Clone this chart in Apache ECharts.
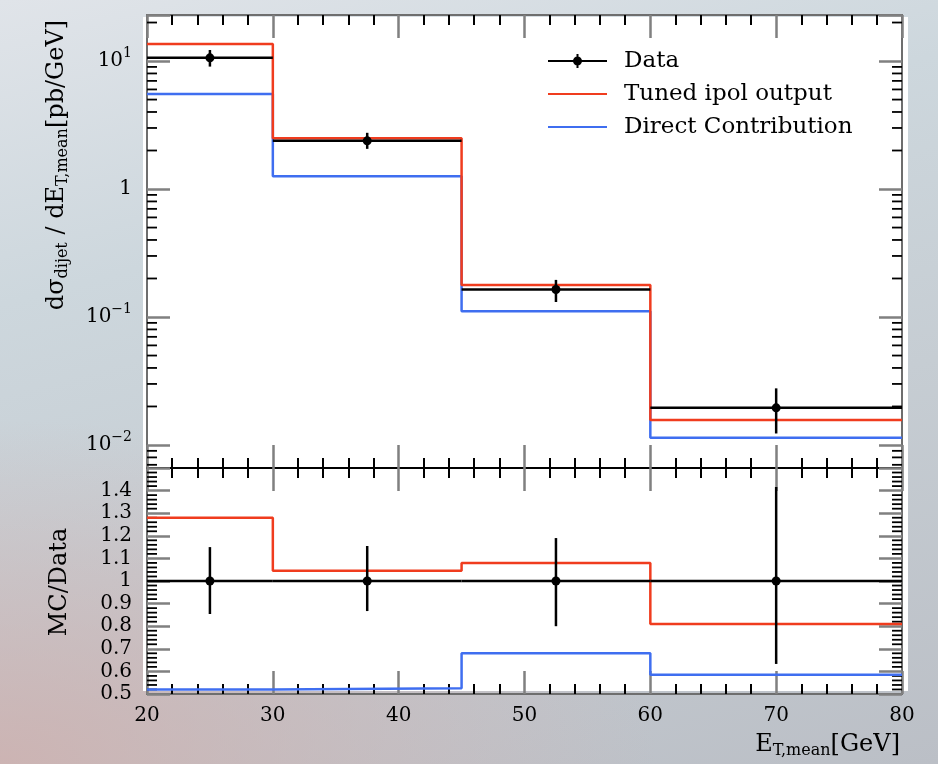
<!DOCTYPE html>
<html>
<head>
<meta charset="utf-8">
<script src="https://cdn.jsdelivr.net/npm/echarts@6/dist/echarts.min.js"></script>
<style>
  html, body { margin: 0; padding: 0; }
  #main {
    width: 938px; height: 764px;
    background:
      radial-gradient(ellipse 70% 45% at 0% 100%, rgba(206,176,174,0.85), rgba(206,176,174,0) 100%),
      linear-gradient(165deg, #e0e4e9 0%, #cdd7dd 30%, #c6cdd3 60%, #bbbfc6 100%);
  }
</style>
</head>
<body>
<div id="main"></div>
<script>
var chartDom = document.getElementById('main');
var myChart = echarts.init(chartDom);

const FONT = 'DejaVu Serif';
const frameColor = '#6e6e6e';
const majorTickColor = '#808080';
const redColor = '#f03c1e';
const blueColor = '#3f6ef0';

// bins in E_T,mean [GeV]
const binEdges = [20, 30, 45, 60, 80];
const binLo = [20, 30, 45, 60];
const binHi = [30, 45, 60, 80];
const binCenter = [25, 37.5, 52.5, 70];

// upper panel: dsigma/dE_T,mean [pb/GeV]
const dataValues = [10.6, 2.38, 0.164, 0.0195];
const dataErrLow = [9.05, 2.06, 0.131, 0.0123];
const dataErrHigh = [12.2, 2.75, 0.195, 0.0277];
const tunedValues = [13.6, 2.49, 0.178, 0.0157];
const directValues = [5.52, 1.26, 0.111, 0.0114];

// lower panel: MC/Data
const ratioData = [1, 1, 1, 1];
const ratioErrLow = [0.854, 0.867, 0.80, 0.633];
const ratioErrHigh = [1.15, 1.155, 1.19, 1.416];
const ratioTuned = [1.28, 1.045, 1.08, 0.81];
const ratioDirect = [0.52, 0.525, 0.68, 0.585];

// ticks
const logMajorTicks = [0.01, 0.1, 1, 10];
const logMajorLabels = ['10{sup|−2}', '10{sup|−1}', '1', '10{sup|1}'];
const logMinorTicks = [0.007, 0.008, 0.009,
  0.02, 0.03, 0.04, 0.05, 0.06, 0.07, 0.08, 0.09,
  0.2, 0.3, 0.4, 0.5, 0.6, 0.7, 0.8, 0.9,
  2, 3, 4, 5, 6, 7, 8, 9, 20];
const ratioLabels = ['0.5', '0.6', '0.7', '0.8', '0.9', '1', '1.1', '1.2', '1.3', '1.4'];
const ratioMinorTicks = [0.52, 0.54, 0.56, 0.58, 0.62, 0.64, 0.66, 0.68,
  0.72, 0.74, 0.76, 0.78, 0.82, 0.84, 0.86, 0.88, 0.92, 0.94, 0.96, 0.98,
  1.02, 1.04, 1.06, 1.08, 1.12, 1.14, 1.16, 1.18, 1.22, 1.24, 1.26, 1.28,
  1.32, 1.34, 1.36, 1.38, 1.42, 1.44, 1.46, 1.48];

function stepData(values) {
  var out = [];
  for (var i = 0; i < values.length; i++) {
    out.push([binEdges[i], values[i]]);
  }
  out.push([binEdges[binEdges.length - 1], values[values.length - 1]]);
  return out;
}

function pointData(vals, lows, highs) {
  var out = [];
  for (var i = 0; i < vals.length; i++) {
    out.push([binLo[i], binHi[i], binCenter[i], vals[i], lows[i], highs[i]]);
  }
  return out;
}

function edgeData(ticks, x) {
  return ticks.map(function (v) { return [x, v]; });
}

function renderPoints(params, api) {
  var lo = api.coord([api.value(0), api.value(3)]);
  var hi = api.coord([api.value(1), api.value(3)]);
  var c = api.coord([api.value(2), api.value(3)]);
  var eLo = api.coord([api.value(2), api.value(4)]);
  var eHi = api.coord([api.value(2), api.value(5)]);
  var st = { stroke: '#000', lineWidth: 2.5 };
  return {
    type: 'group',
    children: [
      { type: 'line', shape: { x1: lo[0], y1: lo[1], x2: hi[0], y2: hi[1] }, style: st },
      { type: 'line', shape: { x1: eLo[0], y1: eLo[1], x2: eHi[0], y2: eHi[1] }, style: st },
      { type: 'circle', shape: { cx: c[0], cy: c[1], r: 4.5 }, style: { fill: '#000' } }
    ]
  };
}

// short minor ticks on the vertical frame edges, drawn as thin rect symbols
function minorTickSeries(xi, yi, ticks, side) {
  return {
    type: 'scatter', xAxisIndex: xi, yAxisIndex: yi, silent: true, clip: false,
    data: edgeData(ticks, side === 'left' ? binEdges[0] : binEdges[binEdges.length - 1]),
    symbol: 'rect', symbolSize: [10, 1.8], symbolOffset: [side === 'left' ? 5 : -5, 0],
    itemStyle: { color: '#000', opacity: 1 }, z: 2
  };
}

function xAxisDef(grid, pos, lineColor, showLabel) {
  return {
    type: 'value', gridIndex: grid, position: pos,
    min: 20, max: 80, interval: 10,
    axisLine: { show: true, lineStyle: { color: lineColor, width: 2 } },
    axisTick: { show: true, inside: true, length: 23, lineStyle: { color: majorTickColor, width: 2.5 } },
    minorTick: { show: true, splitNumber: 5, length: 10, lineStyle: { color: '#000', width: 2 } },
    splitLine: { show: false },
    axisLabel: { show: showLabel, margin: 12, color: '#000', fontFamily: FONT, fontSize: 20 }
  };
}

function logAxisDef(pos, showLabel) {
  return {
    type: 'log', logBase: 10, gridIndex: 0, position: pos,
    min: 0.00661, max: 22.9,
    axisLine: { show: true, lineStyle: { color: frameColor, width: 2 } },
    axisTick: { show: true, inside: true, length: 23, lineStyle: { color: majorTickColor, width: 2.5 } },
    splitLine: { show: false },
    axisLabel: {
      show: showLabel, margin: 15, color: '#000', fontFamily: FONT, fontSize: 20,
      formatter: function (v) {
        for (var i = 0; i < logMajorTicks.length; i++) {
          if (Math.abs(Math.log10(v) - Math.log10(logMajorTicks[i])) < 1e-6) return logMajorLabels[i];
        }
        return '';
      },
      rich: { sup: { fontFamily: FONT, fontSize: 14, padding: [0, 0, 16, 0] } }
    }
  };
}

function ratioAxisDef(pos, showLabel) {
  return {
    type: 'value', gridIndex: 1, position: pos,
    min: 0.5, max: 1.5, interval: 0.1,
    axisLine: { show: true, lineStyle: { color: frameColor, width: 2 } },
    axisTick: { show: true, inside: true, length: 23, lineStyle: { color: majorTickColor, width: 2.5 } },
    splitLine: { show: false },
    axisLabel: {
      show: showLabel, margin: 15, color: '#000', fontFamily: FONT, fontSize: 20,
      formatter: function (v) {
        var s = String(Math.round(v * 10) / 10);
        return ratioLabels.indexOf(s) >= 0 ? s : '';
      }
    }
  };
}

const lineIcon = 'path://M0,0 L0.01,0 L0,0.01 Z M0,6 L59,6 L59,8 L0,8 Z M71,14 L70.99,14 L71,13.99 Z';
const dataIcon = 'path://M0,0 L0.01,0 L0,0.01 Z M0,6 L59,6 L59,8 L0,8 Z M28.5,0 L30.5,0 L30.5,14 L28.5,14 Z M25,7 A4.5,4.5 0 1 1 34,7 A4.5,4.5 0 1 1 25,7 Z M71,14 L70.99,14 L71,13.99 Z';

var option = {
  animation: false,
  graphic: [
    { type: 'rect', z: -100, shape: { x: 143, y: 17, width: 765, height: 674 }, style: { fill: '#fff' } },
    {
      type: 'text', x: 57, y: 165, rotation: Math.PI / 2,
      style: {
        text: 'dσ{sub|dijet} / dE{sub|T,mean}[pb/GeV]',
        fontFamily: FONT, fontSize: 24, fill: '#000', align: 'center', verticalAlign: 'middle',
        rich: { sub: { fontFamily: FONT, fontSize: 16, padding: [12, 0, 0, 0] } }
      }
    },
    {
      type: 'text', x: 60, y: 582, rotation: Math.PI / 2,
      style: { text: 'MC/Data', fontFamily: FONT, fontSize: 24, fill: '#000', align: 'center', verticalAlign: 'middle' }
    },
    {
      type: 'text', x: 900, y: 745,
      style: {
        text: 'E{sub|T,mean}[GeV]',
        fontFamily: FONT, fontSize: 24, fill: '#000', align: 'right', verticalAlign: 'middle',
        rich: { sub: { fontFamily: FONT, fontSize: 16, padding: [12, 0, 0, 0] } }
      }
    }
  ],
  legend: {
    orient: 'vertical', left: 548, top: 49, padding: 0,
    itemWidth: 71, itemHeight: 14, itemGap: 9,
    selectedMode: false,
    symbolKeepAspect: false,
    itemStyle: { borderWidth: 0 },
    textStyle: { fontFamily: FONT, fontSize: 23, lineHeight: 24, color: '#000' },
    data: [
      { name: 'Data', icon: dataIcon },
      { name: 'Tuned ipol output', icon: lineIcon },
      { name: 'Direct Contribution', icon: lineIcon }
    ]
  },
  grid: [
    { left: 147, right: 36, top: 15, height: 453 },
    { left: 147, right: 36, top: 468, height: 226 }
  ],
  xAxis: [
    xAxisDef(0, 'bottom', '#000', false),
    xAxisDef(0, 'top', frameColor, false),
    xAxisDef(1, 'top', '#000', false),
    xAxisDef(1, 'bottom', frameColor, true)
  ],
  yAxis: [
    logAxisDef('left', true),
    logAxisDef('right', false),
    ratioAxisDef('left', true),
    ratioAxisDef('right', false)
  ],
  series: [
    minorTickSeries(0, 0, logMinorTicks, 'left'),
    minorTickSeries(0, 0, logMinorTicks, 'right'),
    minorTickSeries(3, 2, ratioMinorTicks, 'left'),
    minorTickSeries(3, 2, ratioMinorTicks, 'right'),
    {
      name: 'Direct Contribution', type: 'line', step: 'end', xAxisIndex: 0, yAxisIndex: 0,
      data: stepData(directValues), showSymbol: false, symbol: 'none',
      color: blueColor, lineStyle: { color: blueColor, width: 2.5 }, z: 3
    },
    {
      name: 'Tuned ipol output', type: 'line', step: 'end', xAxisIndex: 0, yAxisIndex: 0,
      data: stepData(tunedValues), showSymbol: false, symbol: 'none',
      color: redColor, lineStyle: { color: redColor, width: 2.5 }, z: 4
    },
    {
      name: 'Data', type: 'custom', xAxisIndex: 0, yAxisIndex: 0,
      renderItem: renderPoints, data: pointData(dataValues, dataErrLow, dataErrHigh),
      encode: { x: [0, 1, 2], y: [3, 4, 5] }, color: '#000', z: 5
    },
    {
      name: 'Direct Contribution', type: 'line', step: 'end', xAxisIndex: 3, yAxisIndex: 2,
      data: stepData(ratioDirect), showSymbol: false, symbol: 'none',
      color: blueColor, lineStyle: { color: blueColor, width: 2.5 }, z: 3
    },
    {
      name: 'Tuned ipol output', type: 'line', step: 'end', xAxisIndex: 3, yAxisIndex: 2,
      data: stepData(ratioTuned), showSymbol: false, symbol: 'none',
      color: redColor, lineStyle: { color: redColor, width: 2.5 }, z: 4
    },
    {
      name: 'Data', type: 'custom', xAxisIndex: 3, yAxisIndex: 2,
      renderItem: renderPoints, data: pointData(ratioData, ratioErrLow, ratioErrHigh),
      encode: { x: [0, 1, 2], y: [3, 4, 5] }, color: '#000', z: 5
    }
  ]
};

option && myChart.setOption(option);
</script>
</body>
</html>
